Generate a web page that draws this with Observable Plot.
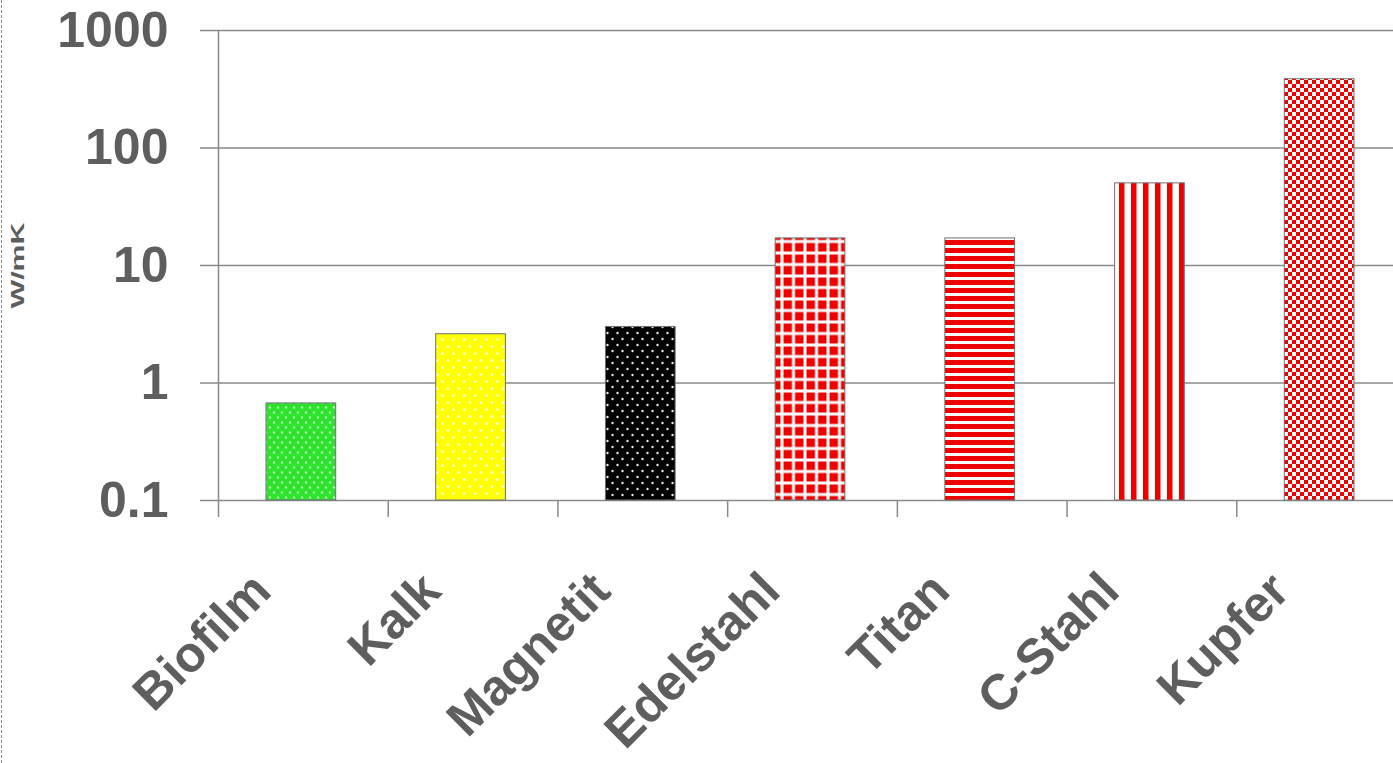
<!DOCTYPE html>
<html><head><meta charset="utf-8">
<script src="https://cdn.jsdelivr.net/npm/d3@7"></script>
<script src="https://cdn.jsdelivr.net/npm/@observablehq/plot@0.6"></script>
<style>
html,body{margin:0;padding:0;background:#fff;}
#wrap{position:relative;width:1393px;height:763px;overflow:hidden;}
#border{position:absolute;left:1px;top:0;bottom:0;border-left:1.5px dashed #8a8a8a;}
</style></head><body><div id="wrap"><div id="border"></div></div>
<script>
// ---- data ----
const categories = ["Biofilm", "Kalk", "Magnetit", "Edelstahl", "Titan", "C-Stahl", "Kupfer"];
const values = [0.67, 2.6, 3.0, 17, 17, 50, 385];
const yDomain = [0.1, 1000];
const yTicks = [0.1, 1, 10, 100, 1000];
const yTickLabels = ["0.1", "1", "10", "100", "1000"];
const yLabel = "W/mK";
const patternIds = ["pat-biofilm", "pat-kalk", "pat-magnetit", "pat-edelstahl", "pat-titan", "pat-cstahl", "pat-kupfer"];

const data = categories.map((c, i) => ({name: c, value: values[i], fill: `url(#${patternIds[i]})`}));
const gray = "#8a8a8a";
const textGray = "#5e5e5e";
const font = "'Liberation Sans', Arial, sans-serif";

const plot = Plot.plot({
  width: 1393, height: 763,
  marginLeft: 218, marginRight: -13, marginTop: 30, marginBottom: 263,
  style: {fontFamily: font, background: "transparent"},
  x: {domain: categories, padding: 0, round: false, axis: null},
  y: {type: "log", domain: yDomain, axis: null},
  color: {type: "identity"},
  marks: [
    Plot.ruleY(yTicks, {stroke: gray, strokeWidth: 1.5}),
    Plot.ruleX([categories[0]], {dx: -84.85, stroke: gray, strokeWidth: 1.5}),
    Plot.axisY({ticks: yTicks, tickSize: 18, text: null, stroke: gray, strokeWidth: 1.5, label: null}),
    Plot.axisY({ticks: yTicks, tickSize: 0, tickPadding: 50, label: null,
      tickFormat: d => yTickLabels[yTicks.indexOf(d)],
      fill: textGray, fontSize: 50, fontWeight: "bold"}),
    Plot.axisX({tickSize: 17, text: null, dx: -84.85, stroke: gray, strokeWidth: 1.5, label: null}),
    Plot.barY(data, {x: "name", y1: () => yDomain[0], y2: "value", fill: "fill",
      stroke: "#707070", strokeWidth: 1, insetLeft: 48, insetRight: 52}),
    Plot.text(data, {x: "name", y: () => yDomain[0], text: "name", rotate: -45,
      textAnchor: "end", lineAnchor: "bottom", dx: -30, dy: 93,
      fontSize: 50, fontWeight: "bold", fill: textGray}),
    Plot.text([yLabel], {frameAnchor: "left", text: d => d, rotate: -90, dx: -201,
      fontSize: 19, fontWeight: "bold", fill: textGray, textAnchor: "middle"})
  ]
});

const svg = plot.tagName.toLowerCase() === "svg" ? plot : plot.querySelector("svg");
const defs = document.createElementNS("http://www.w3.org/2000/svg", "defs");
defs.innerHTML = `
<pattern id="pat-biofilm" patternUnits="userSpaceOnUse" width="8" height="10">
  <rect width="8" height="10" fill="#2ee22e"/>
  <circle cx="2" cy="2.5" r="1.2" fill="#a8f5a8"/>
  <circle cx="6" cy="7.5" r="1.2" fill="#a8f5a8"/>
</pattern>
<pattern id="pat-kalk" patternUnits="userSpaceOnUse" width="11" height="14">
  <rect width="11" height="14" fill="#ffff00"/>
  <circle cx="2.5" cy="3.5" r="1.6" fill="#ffffb0"/>
  <circle cx="8" cy="10.5" r="1.6" fill="#ffffb0"/>
</pattern>
<pattern id="pat-magnetit" patternUnits="userSpaceOnUse" width="10" height="12">
  <rect width="10" height="12" fill="#000"/>
  <circle cx="2.5" cy="3" r="1.2" fill="#e8e8e8"/>
  <circle cx="7.5" cy="9" r="1.2" fill="#e8e8e8"/>
</pattern>
<pattern id="pat-edelstahl" patternUnits="userSpaceOnUse" width="11.5" height="11.5">
  <rect width="11.5" height="11.5" fill="#fff"/>
  <rect x="1.5" y="1.5" width="8.5" height="8.5" fill="#ee0000"/>
</pattern>
<pattern id="pat-titan" patternUnits="userSpaceOnUse" width="8" height="8">
  <rect width="8" height="8" fill="#fff"/>
  <rect y="0" width="8" height="5" fill="#ee0000"/>
</pattern>
<pattern id="pat-cstahl" patternUnits="userSpaceOnUse" width="12" height="12">
  <rect width="12" height="12" fill="#fff"/>
  <rect x="3" width="5.5" height="12" fill="#ee0000"/>
</pattern>
<pattern id="pat-kupfer" patternUnits="userSpaceOnUse" width="8" height="8">
  <rect width="8" height="8" fill="#fff"/>
  <rect x="0" y="0" width="4" height="4" fill="#ee0000"/>
  <rect x="4" y="4" width="4" height="4" fill="#ee0000"/>
</pattern>`;
svg.insertBefore(defs, svg.firstChild);

svg.querySelectorAll("text").forEach(t => {
  if (t.textContent === yLabel) {
    t.setAttribute("textLength", "86");
    t.setAttribute("lengthAdjust", "spacingAndGlyphs");
  }
});

document.getElementById("wrap").appendChild(plot);
</script></body></html>
